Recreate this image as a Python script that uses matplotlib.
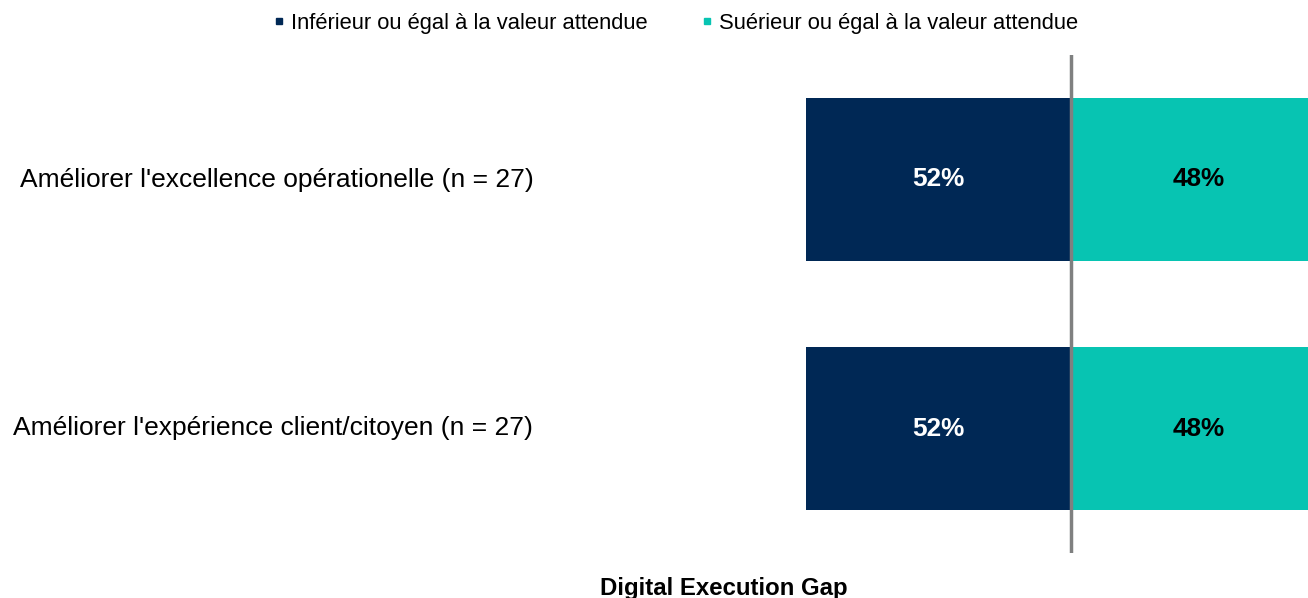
import matplotlib.pyplot as plt
from matplotlib.lines import Line2D

plt.rcParams['font.family'] = ['Liberation Sans', 'DejaVu Sans']

categories = ["Améliorer l'excellence opérationelle (n = 27)",
              "Améliorer l'expérience client/citoyen (n = 27)"]
below = [52, 52]   # Inférieur ou égal
above = [48, 48]   # Supérieur ou égal
series_names = ["Inférieur ou égal à la valeur attendue",
                "Suérieur ou égal à la valeur attendue"]
title = "Digital Execution Gap"

navy = '#002855'
teal = '#07c4b2'

W, H = 1308, 598
fig = plt.figure(figsize=(W / 100, H / 100), dpi=100)
# axes placed in pixel terms: left edge of bars to figure right edge
ax = fig.add_axes([806 / W, 1 - 553 / H, (1308 - 806) / W, (553 - 55) / H])

y = list(range(len(categories)))
neg = [-v for v in below]
ax.barh(y, neg, height=0.653, color=navy)
ax.barh(y, above, height=0.653, color=teal)
ax.set_xlim(-52, 46.5)
ax.set_ylim(1.5, -0.5)

for i in y:
    ax.text(-below[i] / 2, i, f"{below[i]}%", ha='center', va='center',
            color='white', fontsize=18.8, fontweight='bold')
    ax.text(above[i] / 2 + 1, i, f"{above[i]}%", ha='center', va='center',
            color='black', fontsize=18.8, fontweight='bold')
    ax.text(-52 - 53.5, i, categories[i], ha='right', va='center',
            fontsize=19, color='black', clip_on=False)

ax.axvline(0, color='#7f8080', linewidth=2.5)
ax.axis('off')

handles = [Line2D([], [], marker='s', linestyle='none', color=navy, markersize=5),
           Line2D([], [], marker='s', linestyle='none', color=teal, markersize=5)]
fig.legend(handles, series_names, loc='center', bbox_to_anchor=(674 / W, 1 - 23 / H),
           ncol=2, frameon=False, fontsize=15.8, handletextpad=0.15, columnspacing=2.3,
           handlelength=0.8)

fig.text(724 / W, 1 - 588 / H, title, ha='center', va='center',
         fontsize=17.3, fontweight='bold')

fig.savefig('out.png', dpi=100)
